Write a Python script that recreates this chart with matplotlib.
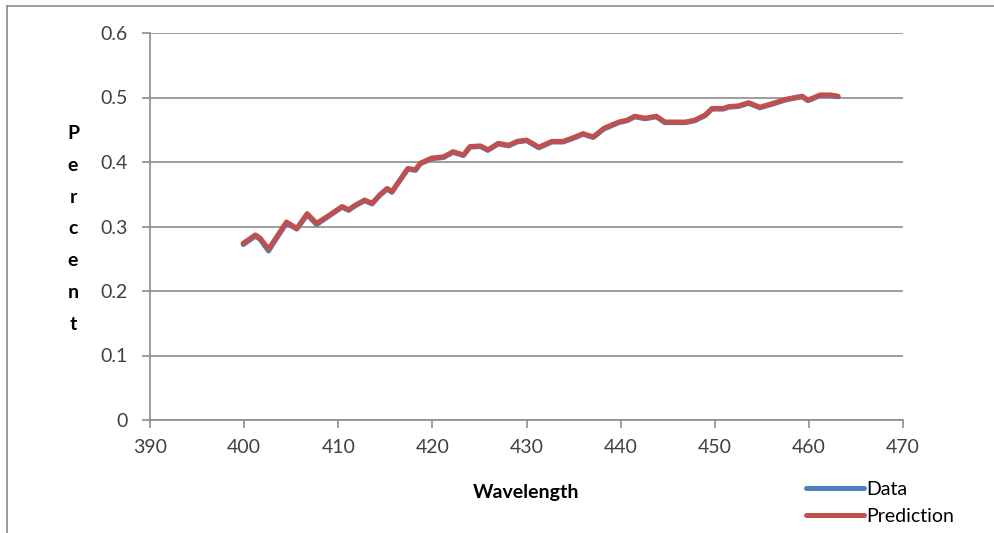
import matplotlib
matplotlib.use('Agg')
import matplotlib.pyplot as plt
from matplotlib.lines import Line2D

wavelength = [399.9, 401.2, 401.7, 402.6, 403.1, 404.5, 405.6, 406.7, 407.7, 409.1,
              410.4, 411.1, 411.8, 412.8, 413.6, 414.4, 415.2, 415.7, 416.4, 417.4,
              418.2, 418.7, 419.9, 421.2, 422.2, 423.3, 424.0, 425.1, 425.9, 427.0,
              428.1, 429.0, 430.0, 430.6, 431.3, 432.7, 433.9, 435.2, 436.0, 437.1,
              438.2, 439.8, 440.7, 441.5, 442.6, 443.8, 444.7, 445.8, 446.9, 447.9,
              449.0, 449.7, 450.9, 451.5, 452.5, 453.6, 454.8, 456.2, 457.5, 458.5,
              459.3, 459.9, 461.2, 462.3, 463.1]
prediction = [0.274, 0.287, 0.282, 0.265, 0.276, 0.307, 0.297, 0.320, 0.305, 0.318,
              0.331, 0.326, 0.333, 0.341, 0.336, 0.349, 0.359, 0.354, 0.369, 0.390,
              0.388, 0.398, 0.406, 0.408, 0.416, 0.411, 0.424, 0.425, 0.419, 0.429,
              0.426, 0.432, 0.434, 0.429, 0.423, 0.432, 0.432, 0.439, 0.444, 0.439,
              0.452, 0.462, 0.465, 0.471, 0.468, 0.471, 0.462, 0.462, 0.462, 0.465,
              0.473, 0.483, 0.483, 0.486, 0.487, 0.492, 0.485, 0.491, 0.497, 0.500,
              0.502, 0.496, 0.504, 0.504, 0.502]
data = [0.272, 0.285, 0.280, 0.262, 0.274, 0.305, 0.296, 0.318, 0.303, 0.317,
        0.330, 0.325, 0.332, 0.340, 0.335, 0.348, 0.358, 0.353, 0.368, 0.389,
        0.387, 0.397, 0.405, 0.407, 0.415, 0.410, 0.423, 0.424, 0.418, 0.428,
        0.425, 0.431, 0.433, 0.428, 0.422, 0.431, 0.431, 0.438, 0.443, 0.438,
        0.451, 0.461, 0.464, 0.470, 0.467, 0.470, 0.461, 0.461, 0.461, 0.464,
        0.472, 0.482, 0.482, 0.485, 0.486, 0.491, 0.484, 0.490, 0.496, 0.499,
        0.501, 0.495, 0.503, 0.503, 0.501]

plt.rcParams['font.family'] = ['Lato', 'DejaVu Sans']
fs = 14

fig = plt.figure(figsize=(9.94, 5.33), dpi=100)
ax = fig.add_axes([150/994, 1 - 420/533, (903 - 150)/994, (420 - 33)/533])

ax.plot(wavelength, data, color='#4F81BD', lw=3.6, label='Data', solid_capstyle='round')
ax.plot(wavelength, prediction, color='#C0504D', lw=3.6, label='Prediction', solid_capstyle='round')

ax.set_xlim(390, 470)
ax.set_ylim(0, 0.6)
ax.set_xticks(range(390, 471, 10))
ax.set_yticks([0, 0.1, 0.2, 0.3, 0.4, 0.5, 0.6])
ax.set_yticklabels(['0', '0.1', '0.2', '0.3', '0.4', '0.5', '0.6'])
ax.grid(axis='y', color='#8C8C8C', lw=1.2)
ax.set_axisbelow(True)
for s in ['top', 'right']:
    ax.spines[s].set_visible(False)
for s in ['left', 'bottom']:
    ax.spines[s].set_color('#8C8C8C')
    ax.spines[s].set_linewidth(1.2)
ax.tick_params(axis='both', colors='#8C8C8C', labelcolor='#404040', labelsize=fs,
               length=6, width=1.2)
ax.tick_params(axis='y', pad=10)
ax.tick_params(axis='x', pad=8)

ax.set_xlabel('Wavelength', fontsize=fs, fontweight='bold', labelpad=20)
fig.text(73/994, 1 - 229/533, 'P\ne\nr\nc\ne\nn\nt', ha='center', va='center',
         fontsize=fs, fontweight='bold', linespacing=2.05)

ax.legend(loc='upper left', bbox_to_anchor=(806/994, 1 - 481/533),
          bbox_transform=fig.transFigure, frameon=False, fontsize=fs,
          handlelength=3.0, handletextpad=0.1, labelspacing=0.5,
          borderpad=0, borderaxespad=0)

# outer chart border (top and left edges visible)
fig.add_artist(Line2D([7/994, 7/994], [0, 1 - 6/533], transform=fig.transFigure,
                      color='#8C8C8C', lw=1.2))
fig.add_artist(Line2D([7/994, 1], [1 - 6/533, 1 - 6/533], transform=fig.transFigure,
                      color='#8C8C8C', lw=1.2))

fig.savefig('out.png', dpi=100)
